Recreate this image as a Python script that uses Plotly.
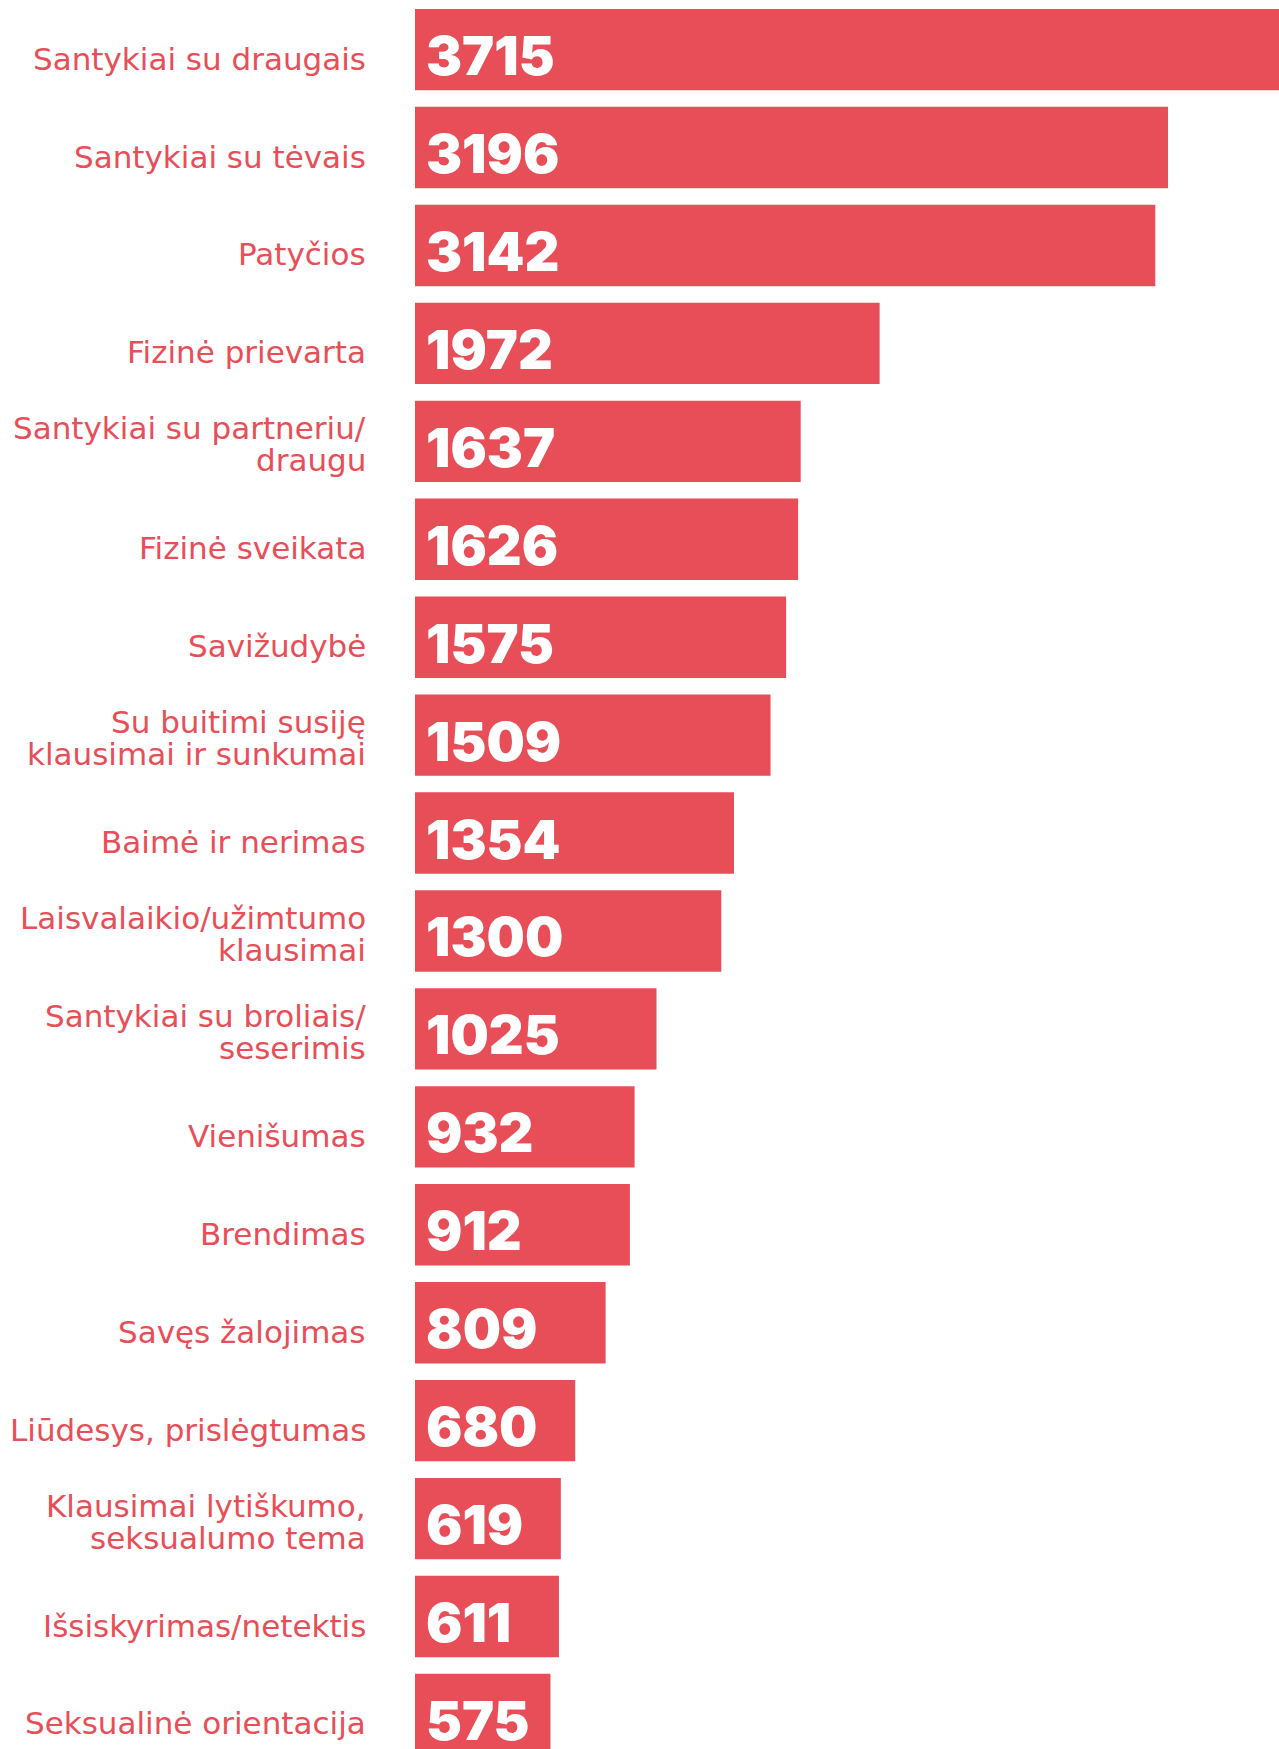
import plotly.graph_objects as go

categories = [
    "Santykiai su draugais",
    "Santykiai su tėvais",
    "Patyčios",
    "Fizinė prievarta",
    "Santykiai su partneriu/<br>draugu",
    "Fizinė sveikata",
    "Savižudybė",
    "Su buitimi susiję<br>klausimai ir sunkumai",
    "Baimė ir nerimas",
    "Laisvalaikio/užimtumo<br>klausimai",
    "Santykiai su broliais/<br>seserimis",
    "Vienišumas",
    "Brendimas",
    "Savęs žalojimas",
    "Liūdesys, prislėgtumas",
    "Klausimai lytiškumo,<br>seksualumo tema",
    "Išsiskyrimas/netektis",
    "Seksualinė orientacija",
]
values = [3715, 3196, 3142, 1972, 1637, 1626, 1575, 1509, 1354, 1300,
          1025, 932, 912, 809, 680, 619, 611, 575]

RED = "#E84E57"
W, H = 1279, 1749

fig = go.Figure(go.Bar(
    x=values, y=categories, orientation="h",
    marker=dict(color=RED, line=dict(width=0)),
    width=0.831, hoverinfo="skip",
))

annotations = []
for cat, v in zip(categories, values):
    annotations.append(dict(
        x=0, y=cat, xref="x", yref="y", text=str(v), showarrow=False,
        xanchor="left", yanchor="middle", xshift=9, yshift=-6,
        font=dict(family="Inter", size=54, color="white", weight=900),
    ))
    lines = cat.split("<br>")
    shifts = [-9] if len(lines) == 1 else [13, -19]
    for line, s in zip(lines, shifts):
        annotations.append(dict(
            x=0, y=cat, xref="paper", yref="y", text=line, showarrow=False,
            xanchor="right", yanchor="middle", xshift=-47, yshift=s,
            font=dict(family="DejaVu Sans", size=31, color=RED),
        ))

fig.update_layout(
    width=W, height=H,
    margin=dict(l=415, r=0, t=0, b=0),
    paper_bgcolor="white", plot_bgcolor="white",
    showlegend=False,
    annotations=annotations,
    xaxis=dict(range=[0, 3667], visible=False, fixedrange=True),
    yaxis=dict(range=[17.353, -0.5065], visible=False, fixedrange=True,
               type="category"),
)

fig.write_html(
    "out.html",
    config={"displayModeBar": False},
    post_script="document.body.style.margin='0';document.body.style.overflow='hidden';",
)
